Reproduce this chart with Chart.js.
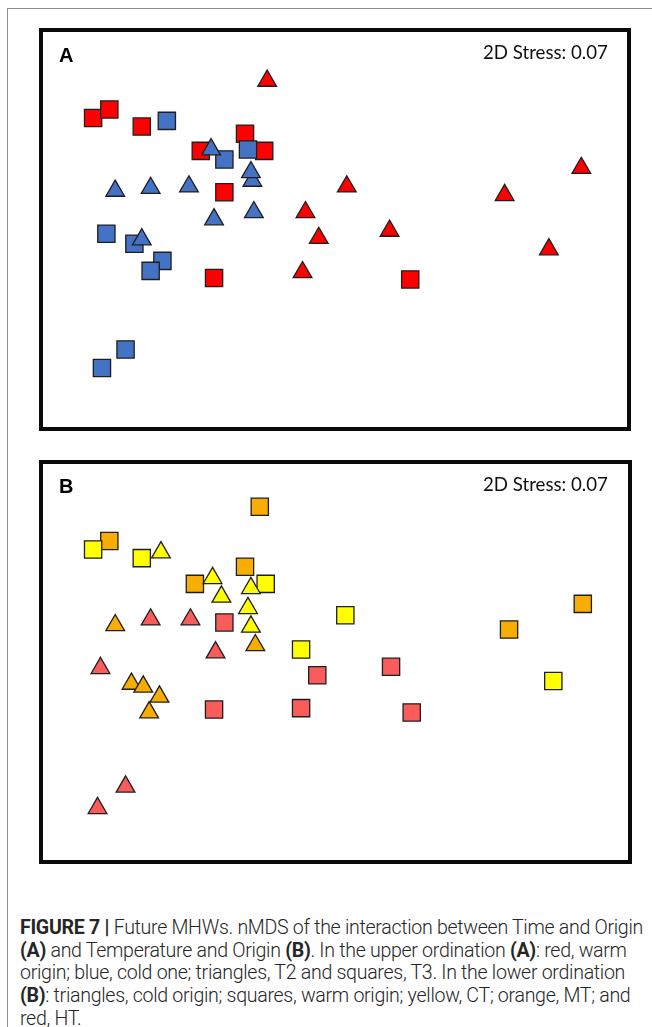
<!DOCTYPE html>
<html>
<head>
<meta charset="utf-8">
<script src="https://cdn.jsdelivr.net/npm/chart.js@4.4.1/dist/chart.umd.min.js"></script>
<style>
  html, body { margin:0; padding:0; }
  body { width:652px; height:1027px; background:#fff; position:relative; overflow:hidden;
         font-family:"Liberation Sans", Arial, sans-serif; }
  .frameL { position:absolute; left:7px; top:8px; width:1px; height:1019px; background:#8c8c8c; }
  .frameT { position:absolute; left:7px; top:8px; width:645px; height:1px; background:#8c8c8c; }
  .box { position:absolute; border:4px solid #0a0a0a; box-sizing:border-box; pointer-events:none; }
  canvas.plot { position:absolute; }
  .lab { position:absolute; font-weight:bold; font-size:20px; line-height:20px; color:#000; }
  .stress { position:absolute; font-family:Lato, "Open Sans", sans-serif; font-size:19px; line-height:19px;
            color:#111; white-space:nowrap; }
  .cap { position:absolute; left:20px; top:917px; font-family:Roboto, "Liberation Sans", sans-serif;
         font-weight:300; font-size:17px; line-height:22.7px; color:#262626; white-space:nowrap;
         letter-spacing:-0.3px; }
  .cap b { font-weight:700; }
  .cap span.l { display:block; }
  .cap span.l1 { display:inline-block; }
</style>
</head>
<body>
<div class="frameL"></div>
<div class="frameT"></div>

<canvas id="chartA" class="plot" width="590" height="400" style="left:40px;top:28px;width:590px;height:400px;"></canvas>
<div class="box" style="left:39px;top:28px;width:592px;height:403px;"></div>
<div class="lab" style="left:59px;top:45px;">A</div>
<div class="stress" id="stressA" style="left:483px;top:43px;">2D Stress: 0.07</div>

<canvas id="chartB" class="plot" width="590" height="400" style="left:40px;top:461px;width:590px;height:400px;"></canvas>
<div class="box" style="left:39px;top:460px;width:593px;height:404px;"></div>
<div class="lab" style="left:59px;top:476px;">B</div>
<div class="stress" id="stressB" style="left:483px;top:475px;">2D Stress: 0.07</div>

<div class="cap" id="cap">
  <span class="l1" id="capLine1"><b>FIGURE 7 |</b> Future MHWs. nMDS of the interaction between Time and Origin</span>
  <span class="l"><b>(A)</b> and Temperature and Origin <b>(B)</b>. In the upper ordination <b>(A)</b>: red, warm</span>
  <span class="l">origin; blue, cold one; triangles, T2 and squares, T3. In the lower ordination</span>
  <span class="l"><b>(B)</b>: triangles, cold origin; squares, warm origin; yellow, CT; orange, MT; and</span>
  <span class="l">red, HT.</span>
</div>

<script>
// ---------- Panel A: Time x Origin (nMDS coordinates) ----------
const aWarmT2 = [[-0.46,1.03],[0.08,0.29],[1.15,0.23],[1.67,0.42],[-0.20,0.11],[-0.11,-0.07],[0.37,-0.02],[1.45,-0.15],[-0.22,-0.31]];
const aColdT2 = [[-0.84,0.55],[-0.56,0.33],[-0.57,0.39],[-1.49,0.26],[-1.25,0.28],[-0.99,0.29],[-0.55,0.11],[-0.82,0.06],[-1.31,-0.08]];
const aWarmT3 = [[-1.64,0.77],[-1.53,0.83],[-1.31,0.71],[-0.61,0.66],[-0.91,0.54],[-0.48,0.54],[-0.75,0.25],[-0.82,-0.35],[0.51,-0.36]];
const aColdT3 = [[-1.14,0.75],[-0.75,0.48],[-0.59,0.55],[-1.55,-0.04],[-1.36,-0.11],[-1.17,-0.23],[-1.25,-0.30],[-1.42,-0.85],[-1.58,-0.98]];

// ---------- Panel B: Temperature x Origin ----------
const bColdCT = [[-1.18,0.76],[-0.83,0.58],[-0.77,0.45],[-0.57,0.51],[-0.59,0.37],[-0.57,0.24]];
const bColdMT = [[-1.49,0.25],[-0.54,0.11],[-1.38,-0.16],[-1.30,-0.18],[-1.19,-0.25],[-1.26,-0.36]];
const bColdHT = [[-1.25,0.29],[-0.98,0.29],[-0.81,0.06],[-1.59,-0.05],[-1.42,-0.88],[-1.61,-1.03]];
const bWarmCT = [[-1.64,0.78],[-1.31,0.72],[-0.47,0.54],[0.07,0.32],[-0.23,0.08],[1.48,-0.14]];
const bWarmMT = [[-0.51,1.08],[-1.53,0.84],[-0.61,0.66],[-0.95,0.54],[1.68,0.40],[1.18,0.22]];
const bWarmHT = [[-0.75,0.27],[0.38,-0.04],[-0.12,-0.10],[-0.82,-0.34],[-0.23,-0.33],[0.52,-0.36]];

const xLimits = [-2, 2];
const yLimits = [-1.4, 1.4];

const RED = '#FF0000', BLUE = '#4472C4', YELLOW = '#FFFF00', ORANGE = '#F7AE00', SALMON = '#FA5C5C';
const EDGE = '#1e1e1e';

function pts(arr){ return arr.map(p => ({x:p[0], y:p[1]})); }
function ds(arr, color, style){
  const r = style === 'rect' ? 12.2 : 10.8;
  return { data: pts(arr), backgroundColor: color, borderColor: EDGE, borderWidth: 1.3,
           pointStyle: style, pointRadius: r, pointHoverRadius: r };
}
function makeChart(id, datasets){
  return new Chart(document.getElementById(id), {
    type: 'scatter',
    data: { datasets },
    options: {
      responsive: false, animation: false, devicePixelRatio: 1,
      layout: { padding: 0, autoPadding: false },
      plugins: { legend: { display:false }, tooltip: { enabled:false } },
      events: [],
      scales: {
        x: { display:false, min:xLimits[0], max:xLimits[1] },
        y: { display:false, min:yLimits[0], max:yLimits[1] }
      }
    }
  });
}
// dataset 0 is drawn on top
makeChart('chartA', [
  ds(aColdT2, BLUE, 'triangle'),
  ds(aWarmT2, RED, 'triangle'),
  ds(aColdT3, BLUE, 'rect'),
  ds(aWarmT3, RED, 'rect')
]);
makeChart('chartB', [
  ds(bColdMT, ORANGE, 'triangle'),
  ds(bColdCT, YELLOW, 'triangle'),
  ds(bColdHT, SALMON, 'triangle'),
  ds(bWarmCT, YELLOW, 'rect'),
  ds(bWarmMT, ORANGE, 'rect'),
  ds(bWarmHT, SALMON, 'rect')
]);

// fit text widths to the reference
function fit(el, target){
  const fs = parseFloat(getComputedStyle(el).fontSize);
  const w = el.getBoundingClientRect().width;
  if (w > 0) return fs * target / w;
  return fs;
}
['stressA','stressB'].forEach(id => {
  const el = document.getElementById(id);
  el.style.display = 'inline-block';
  el.style.fontSize = fit(el, 125) + 'px';
});
const capFs = fit(document.getElementById('capLine1'), 620);
document.getElementById('cap').style.fontSize = capFs + 'px';
</script>
</body>
</html>
